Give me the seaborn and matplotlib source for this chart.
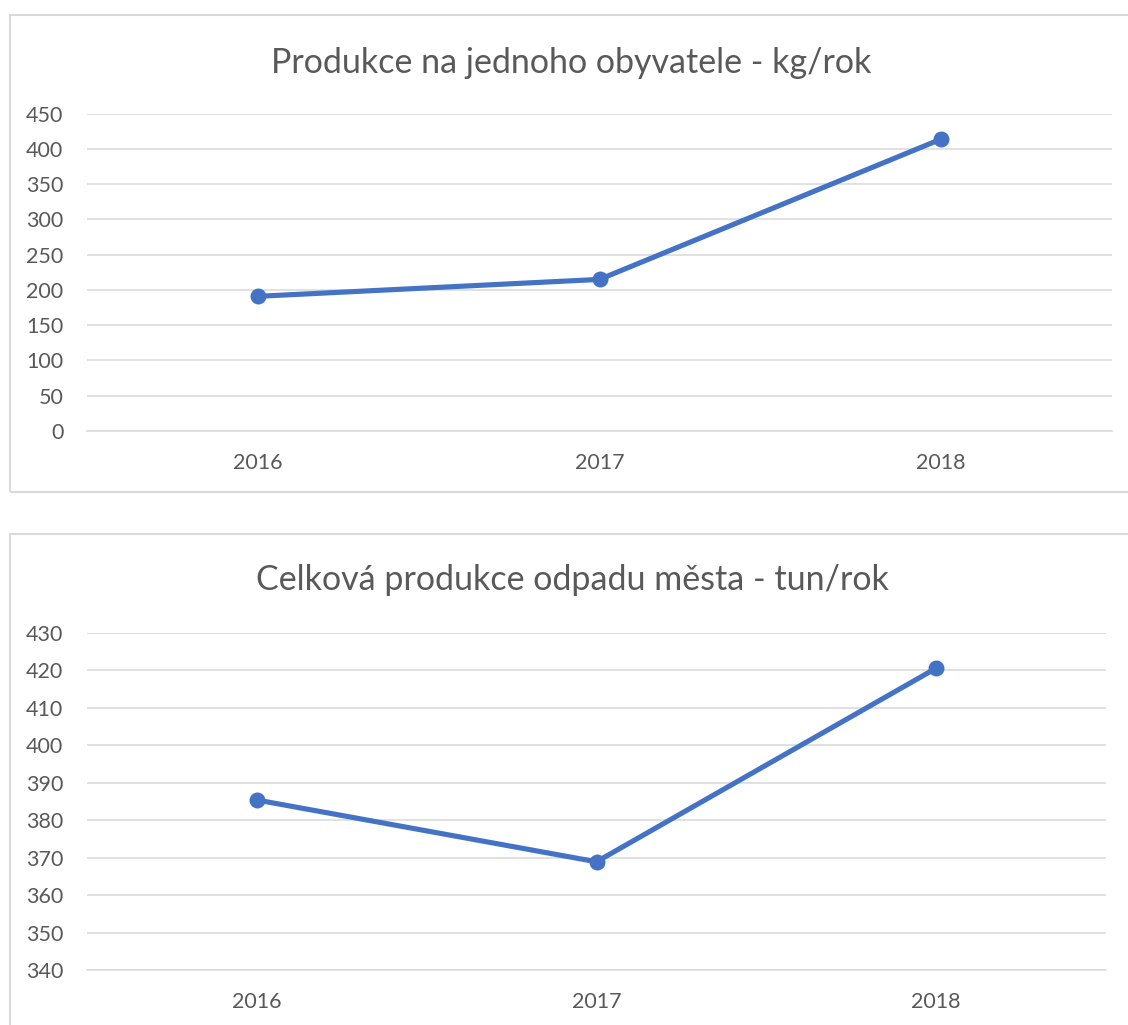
import matplotlib
matplotlib.use("Agg")
import matplotlib.pyplot as plt
import seaborn as sns
from matplotlib.patches import Rectangle

years = ["2016", "2017", "2018"]
per_capita = [191, 215, 414]        # kg/rok
total_waste = [385.4, 368.9, 420.6]  # tun/rok

title_top = "Produkce na jednoho obyvatele - kg/rok"
title_bottom = "Celková produkce odpadu města - tun/rok"

LINE = "#4472C4"
GRID = "#d9d9d9"
TEXT = "#595959"
W, H = 1128, 1025

sns.set_theme(style="white")
plt.rcParams["font.family"] = ["Lato", "DejaVu Sans"]

fig = plt.figure(figsize=(W / 100, H / 100), dpi=100)


def px_box(x0, y0, x1, y1):
    # pixel box (top-left origin) -> figure fraction [left, bottom, width, height]
    return [x0 / W, 1 - y1 / H, (x1 - x0) / W, (y1 - y0) / H]


def draw_panel(rect, values, ylim, step, title, title_x, title_y):
    ax = fig.add_axes(rect)
    sns.lineplot(x=years, y=values, ax=ax, color=LINE, linewidth=3.7,
                 marker="o", markersize=11.5, markeredgewidth=0, sort=False)
    ax.set_xlim(-0.5, len(years) - 0.5)
    ax.set_ylim(*ylim)
    ax.set_yticks(list(range(ylim[0], ylim[1] + 1, step)))
    ax.grid(axis="y", color=GRID, linewidth=1.1)
    ax.set_axisbelow(True)
    for s in ["top", "left", "right"]:
        ax.spines[s].set_visible(False)
    ax.spines["bottom"].set_color(GRID)
    ax.spines["bottom"].set_linewidth(1.1)
    ax.tick_params(axis="y", length=0, pad=17, labelsize=15.5, labelcolor=TEXT)
    ax.tick_params(axis="x", length=0, pad=16, labelsize=15.5, labelcolor=TEXT)
    ax.set_xlabel("")
    ax.set_ylabel("")
    fig.text(title_x / W, 1 - title_y / H, title, ha="center", va="baseline",
             fontsize=24.5, color=TEXT)
    return ax


draw_panel(px_box(87, 113.7, 1112, 431), per_capita, (0, 450), 50,
           title_top, 571, 73)
draw_panel(px_box(87, 633, 1106, 970), total_waste, (340, 430), 10,
           title_bottom, 572, 590)

# chart area frames (cropped at right / bottom like the reference)
for (x0, y0, x1, y1) in [(10, 15, 1140, 492), (10, 534, 1140, 1040)]:
    fig.patches.append(Rectangle((x0 / W, 1 - y1 / H), (x1 - x0) / W, (y1 - y0) / H,
                                 transform=fig.transFigure, fill=False,
                                 edgecolor=GRID, linewidth=1.5, zorder=-1))

fig.savefig("out.png", dpi=100, facecolor="white")
